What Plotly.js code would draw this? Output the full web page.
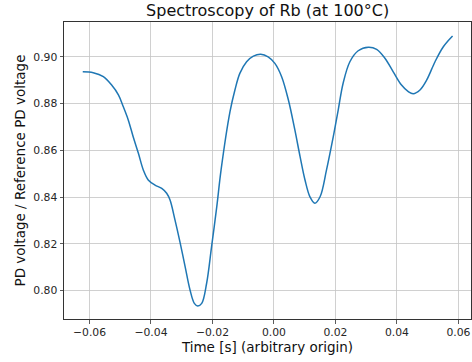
<!DOCTYPE html>
<html>
<head>
<meta charset="utf-8">
<script src="https://cdn.plot.ly/plotly-3.0.1.min.js"></script>
<style>html,body{margin:0;padding:0;background:#fff;}#chart{width:472px;height:362px;}</style>
</head>
<body>
<div id="chart"></div>
<script>
const timeS = [-0.0622, -0.0588, -0.0555, -0.0528, -0.0506, -0.0490, -0.0474, -0.0458, -0.0441, -0.0425, -0.0409, -0.0387, -0.0365, -0.0349, -0.0338, -0.0322, -0.0306, -0.0289, -0.0273, -0.0259, -0.0248, -0.0235, -0.0219, -0.0203, -0.0186, -0.0172, -0.0143, -0.0127, -0.0111, -0.0089, -0.0067, -0.0043, -0.0019, 0.0003, 0.0025, 0.0047, 0.0068, 0.0085, 0.0101, 0.0117, 0.0133, 0.0150, 0.0171, 0.0193, 0.0209, 0.0225, 0.0247, 0.0274, 0.0307, 0.0334, 0.0361, 0.0388, 0.0415, 0.0437, 0.0453, 0.0475, 0.0497, 0.0524, 0.0551, 0.0581];
const ratio = [0.8936, 0.8932, 0.8915, 0.8879, 0.8837, 0.8786, 0.8730, 0.8658, 0.8587, 0.8516, 0.8473, 0.8451, 0.8437, 0.8416, 0.8387, 0.8302, 0.8209, 0.8102, 0.8002, 0.7945, 0.7934, 0.7945, 0.8031, 0.8187, 0.8359, 0.8516, 0.8765, 0.8858, 0.8929, 0.8979, 0.9003, 0.9011, 0.9000, 0.8972, 0.8915, 0.8815, 0.8687, 0.8573, 0.8473, 0.8401, 0.8373, 0.8401, 0.8516, 0.8658, 0.8772, 0.8887, 0.8979, 0.9026, 0.9041, 0.9032, 0.8994, 0.8936, 0.8879, 0.8851, 0.8842, 0.8858, 0.8901, 0.8979, 0.9043, 0.9089];
const xTicks = [-0.06, -0.04, -0.02, 0.00, 0.02, 0.04, 0.06];
const yTicks = [0.80, 0.82, 0.84, 0.86, 0.88, 0.90];
const titleText = 'Spectroscopy of Rb (at 100°C)';
const xLabel = 'Time [s] (arbitrary origin)';
const yLabel = 'PD voltage / Reference PD voltage';

const font = 'DejaVu Sans, sans-serif';
const axisCommon = {
  showline: true, mirror: true, linecolor: '#333', linewidth: 1,
  ticks: 'outside', ticklen: 3.5, tickwidth: 0.8, tickcolor: '#333',
  showgrid: true, gridcolor: '#c4c4c4', gridwidth: 0.8,
  zeroline: false, tickfont: {family: font, size: 10.8, color: '#262626'},
  tickformat: '.2f'
};
const layout = {
  width: 472, height: 362,
  margin: {l: 64, r: 1, t: 22, b: 43},
  paper_bgcolor: '#fff', plot_bgcolor: '#fff',
  showlegend: false,
  title: {text: titleText, font: {family: font, size: 16, color: '#111'}, x: 0.567, xanchor: 'center', y: 0.97, yanchor: 'middle'},
  xaxis: Object.assign({}, axisCommon, {
    range: [-0.0683, 0.0641], tickvals: xTicks,
    title: {text: xLabel, font: {family: font, size: 13.5, color: '#111'}, standoff: 3}
  }),
  yaxis: Object.assign({}, axisCommon, {
    range: [0.7878, 0.9149], tickvals: yTicks,
    title: {text: yLabel, font: {family: font, size: 13.5, color: '#111'}, standoff: 4}
  })
};
Plotly.newPlot('chart', [{
  x: timeS, y: ratio, type: 'scatter', mode: 'lines',
  line: {color: '#1f77b4', width: 1.5, shape: 'spline', smoothing: 1}
}], layout, {displayModeBar: false, staticPlot: true});
</script>
</body>
</html>
